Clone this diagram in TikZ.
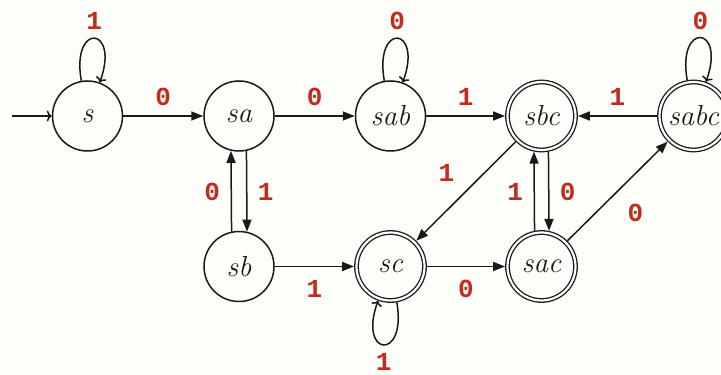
\documentclass[tikz,border=0pt]{standalone}
\usepackage{fontspec}
\newfontfamily\lblfont{Liberation Mono}
\usetikzlibrary{arrows.meta}
\definecolor{lblred}{RGB}{192,44,30}
\definecolor{bgcol}{RGB}{253,253,249}
\definecolor{ink}{RGB}{25,25,25}
\begin{document}
\begin{tikzpicture}[x=1pt,y=1pt,
  state/.style={circle, draw=ink, text=ink, line width=1.5pt, minimum size=70pt, inner sep=0pt,
    font=\itshape\fontsize{29}{32}\selectfont},
  accept/.style={state, minimum size=68pt, line width=1.3pt, double, double distance=2.2pt, outer sep=2.4pt},
  edge/.style={draw=ink, line width=1.5pt, -{Triangle[length=12pt,width=9pt]}},
  loopedge/.style={draw=ink, line width=1.5pt, -{To[length=5pt,width=11pt]}},
  lbl/.style={font=\lblfont\bfseries\fontsize{26}{30}\selectfont, text=lblred, inner sep=0pt}]
\fill[bgcol] (0,0) rectangle (721,375);
\useasboundingbox (0,0) rectangle (721,375);

\node[state]  (s)    at (87.5,259)  {s};
\node[state]  (sa)   at (239,259)   {sa};
\node[state]  (sab)  at (390.5,259) {sab};
\node[accept] (sbc)  at (541.5,259) {sbc};
\node[accept] (sabc) at (693.5,259) {sabc};
\node[state]  (sb)   at (239,108.5) {sb};
\node[accept] (sc)   at (390.5,108.5) {sc};
\node[accept] (sac)  at (541.5,108.5) {sac};
\coordinate (start) at (12,259);

\draw[loopedge] (start) -- (s);

\draw[loopedge] (s) to[out=100,in=70,distance=60pt] node[lbl,midway,yshift=17pt]{1} (s);
\draw[loopedge] (sab) to[out=100,in=70,distance=60pt] node[lbl,midway,yshift=17pt]{0} (sab);
\draw[loopedge] (sabc) to[out=100,in=70,distance=60pt] node[lbl,midway,yshift=17pt]{0} (sabc);
\draw[loopedge] (sc) to[out=-80,in=-110,distance=60pt] node[lbl,midway,yshift=-17pt]{1} (sc);

\draw[edge] (s) -- node[lbl,midway,yshift=19.5pt]{0} (sa);
\draw[edge] (sa) -- node[lbl,midway,yshift=19.5pt]{0} (sab);
\draw[edge] (sab) -- node[lbl,midway,yshift=19.5pt]{1} (sbc);
\draw[edge] (sabc) -- node[lbl,midway,yshift=19.5pt]{1} (sbc);

\draw[edge] (sb.102.4) -- node[lbl,midway,xshift=-19pt,yshift=-1pt]{0} (sa.257.6);
\draw[edge] (sa.282.4) -- node[lbl,midway,xshift=19pt,yshift=-1pt]{1} (sb.77.6);
\draw[edge] (sac.101.9) -- node[lbl,midway,xshift=-19pt,yshift=-1pt]{1} (sbc.258.1);
\draw[edge] (sbc.281.9) -- node[lbl,midway,xshift=19pt,yshift=-1pt]{0} (sac.78.1);

\draw[edge] (sb) -- node[lbl,midway,yshift=-22.5pt]{1} (sc);
\draw[edge] (sc) -- node[lbl,midway,yshift=-22.5pt]{0} (sac);

\draw[edge] (sbc) -- node[lbl,midway,xshift=-19.5pt,yshift=18.75pt]{1} (sc);
\draw[edge] (sac) -- node[lbl,midway,xshift=18pt,yshift=-21.25pt]{0} (sabc);
\end{tikzpicture}
\end{document}
